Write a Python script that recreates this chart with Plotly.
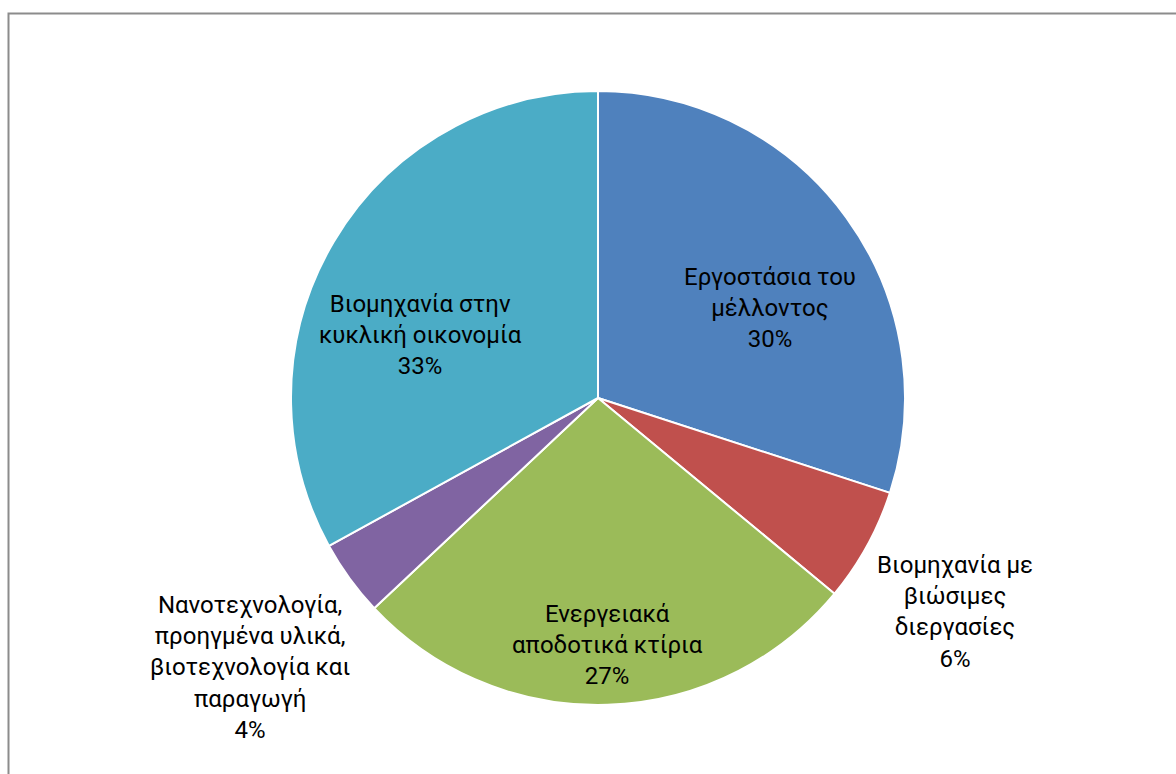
import plotly.graph_objects as go

# Share of funding by thematic area
categories = [
    "Εργοστάσια του μέλλοντος",
    "Βιομηχανία με βιώσιμες διεργασίες",
    "Ενεργειακά αποδοτικά κτίρια",
    "Νανοτεχνολογία, προηγμένα υλικά, βιοτεχνολογία και παραγωγή",
    "Βιομηχανία στην κυκλική οικονομία",
]
values = [30, 6, 27, 4, 33]

# Wrapped label text for each slice
label_lines = [
    ["Εργοστάσια του", "μέλλοντος"],
    ["Βιομηχανία με", "βιώσιμες", "διεργασίες"],
    ["Ενεργειακά", "αποδοτικά κτίρια"],
    ["Νανοτεχνολογία,", "προηγμένα υλικά,", "βιοτεχνολογία και", "παραγωγή"],
    ["Βιομηχανία στην", "κυκλική οικονομία"],
]

colors = ["#4F81BD", "#C0504D", "#9BBB59", "#8064A2", "#4BACC6"]

# Label anchor points (pixel centres of each text block)
label_pos_px = [(770, 308), (955, 612), (607, 645), (250, 667), (420, 335)]

W, H = 1176, 774
cx, cy, r = 598, 398, 307

fig = go.Figure(
    go.Pie(
        labels=categories,
        values=values,
        sort=False,
        direction="clockwise",
        rotation=0,
        textinfo="none",
        hoverinfo="label+percent",
        marker=dict(colors=colors, line=dict(color="white", width=2)),
        domain=dict(x=[(cx - r) / W, (cx + r) / W], y=[1 - (cy + r) / H, 1 - (cy - r) / H]),
        showlegend=False,
    )
)

total = sum(values)
annotations = []
for lines, v, (px, py) in zip(label_lines, values, label_pos_px):
    text = "<br>".join(lines + [f"{v / total * 100:.0f}%"])
    annotations.append(
        dict(
            x=px / W,
            y=1 - py / H,
            xref="paper",
            yref="paper",
            text=text,
            showarrow=False,
            align="center",
            xanchor="center",
            yanchor="middle",
            font=dict(family="Roboto, sans-serif", size=24, color="#000000"),
        )
    )

fig.update_layout(
    width=W,
    height=H,
    margin=dict(l=0, r=0, t=0, b=0),
    paper_bgcolor="white",
    plot_bgcolor="white",
    annotations=annotations,
    shapes=[
        dict(
            type="rect",
            xref="paper",
            yref="paper",
            x0=8.5 / W,
            y0=-0.05,
            x1=1.05,
            y1=1 - 13.5 / H,
            line=dict(color="#8C8C8C", width=2),
            fillcolor="rgba(0,0,0,0)",
            layer="below",
        )
    ],
)

fig.write_html("out.html")
